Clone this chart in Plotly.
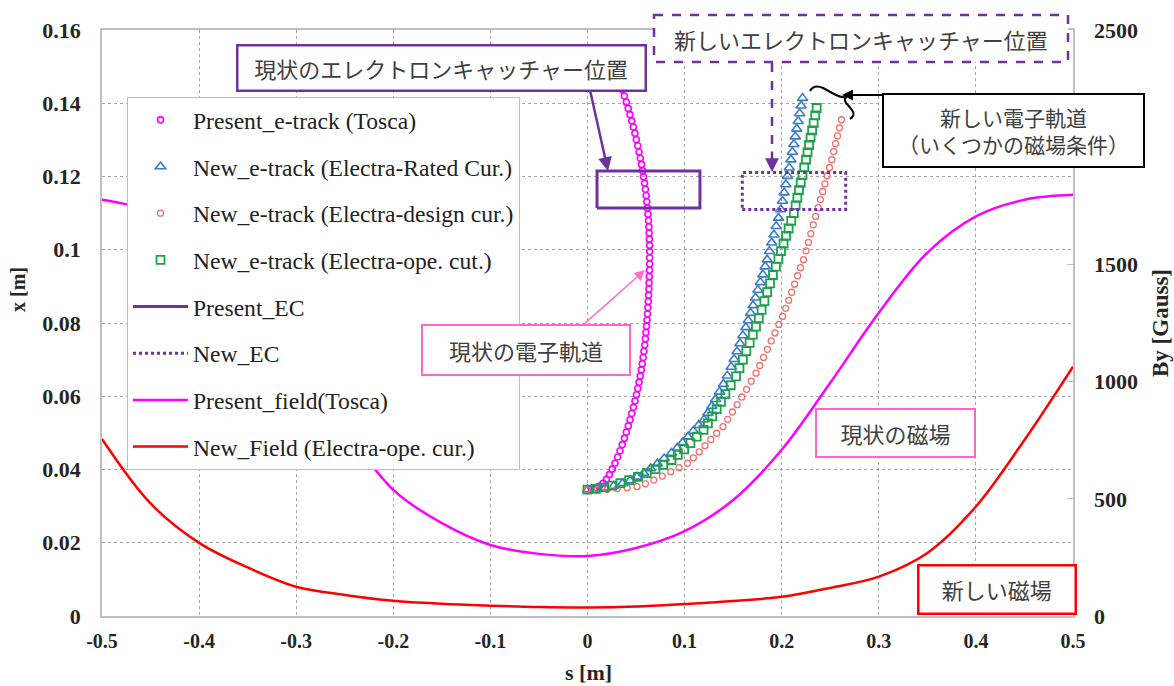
import plotly.graph_objects as go

# ---------------- data ----------------
s_field = [-0.5, -0.45, -0.4, -0.35, -0.3, -0.25, -0.2, -0.15, -0.1, -0.05, 0.0,
           0.05, 0.1, 0.15, 0.2, 0.25, 0.3, 0.35, 0.4, 0.45, 0.5]
present_field = [1776, 1725, 1590, 1380, 1100, 800, 538, 396, 303, 265, 256,
                 290, 362, 495, 709, 995, 1294, 1550, 1705, 1776, 1797]
new_field = [755, 480, 312, 207, 125, 90, 65, 52, 44, 38, 36,
             40, 51, 64, 82, 120, 168, 269, 467, 751, 1064]

present_track_s = [0.004, 0.008, 0.012, 0.016, 0.0195, 0.0225, 0.0255, 0.0283, 0.031, 0.0335,
                   0.0358, 0.038, 0.040, 0.042, 0.0438, 0.0456, 0.0473, 0.0489, 0.0504, 0.0518,
                   0.0531, 0.0543, 0.0554, 0.0564, 0.0573, 0.0581, 0.0589, 0.0596, 0.0602, 0.0608,
                   0.0613, 0.0618, 0.0622, 0.0626, 0.0629, 0.0632, 0.0634, 0.0636, 0.0638, 0.0639,
                   0.0640, 0.0640, 0.0639, 0.0637, 0.0635, 0.0632, 0.0628, 0.0623, 0.0617, 0.0611,
                   0.0604, 0.0596, 0.0587, 0.0577, 0.0567, 0.0556, 0.0544, 0.0531, 0.0518, 0.0503,
                   0.0488, 0.0472, 0.0455, 0.0437, 0.0419, 0.0400, 0.0380, 0.0360, 0.0339, 0.0317,
                   0.0295, 0.0272, 0.0248]
present_track_x = [0.0347, 0.0350, 0.0354, 0.0362, 0.0373, 0.0386, 0.0401, 0.0417, 0.0434, 0.0451,
                   0.0468, 0.0485, 0.0502, 0.0519, 0.0536, 0.0553, 0.0570, 0.0587, 0.0604, 0.0621,
                   0.0638, 0.0655, 0.0672, 0.0689, 0.0706, 0.0723, 0.0740, 0.0757, 0.0774, 0.0791,
                   0.0808, 0.0825, 0.0842, 0.0859, 0.0876, 0.0893, 0.0910, 0.0927, 0.0944, 0.0961,
                   0.0978, 0.0995, 0.1012, 0.1029, 0.1046, 0.1063, 0.1080, 0.1097, 0.1114, 0.1131,
                   0.1148, 0.1165, 0.1182, 0.1199, 0.1216, 0.1233, 0.1250, 0.1267, 0.1284, 0.1301,
                   0.1318, 0.1335, 0.1352, 0.1369, 0.1386, 0.1403, 0.1420, 0.1437, 0.1454, 0.1471,
                   0.1488, 0.1505, 0.1522]

rated_s = [0.0, 0.009, 0.018, 0.027, 0.036, 0.044,
           0.051, 0.058, 0.065, 0.072, 0.079,
           0.0865, 0.0925, 0.098, 0.1035, 0.109, 0.1145,
           0.12, 0.124, 0.128, 0.132, 0.136, 0.140, 0.144,
           0.148, 0.151, 0.154, 0.157, 0.160, 0.163, 0.1655,
           0.168, 0.1705, 0.173, 0.1755, 0.178, 0.1805, 0.183,
           0.185, 0.1873, 0.1897, 0.192, 0.1943, 0.1967,
           0.199, 0.2008, 0.2025, 0.2043, 0.206, 0.2078,
           0.2095, 0.211, 0.2125, 0.214, 0.2155, 0.217, 0.2185, 0.2200, 0.2215]
rated_x = [0.0345, 0.0347, 0.0350, 0.0355, 0.0362, 0.0370,
           0.0380, 0.0390, 0.0403, 0.0416, 0.0430,
           0.0445, 0.0459, 0.0474, 0.0489, 0.0505, 0.0521,
           0.0536, 0.0554, 0.0573, 0.0592, 0.0612, 0.0633, 0.0656,
           0.0680, 0.0701, 0.0722, 0.0744, 0.0766, 0.0788, 0.0807,
           0.0827, 0.0848, 0.0869, 0.0890, 0.0911, 0.0932, 0.0954,
           0.0973, 0.0996, 0.1019, 0.1041, 0.1064, 0.1087,
           0.1110, 0.1133, 0.1156, 0.1178, 0.1201, 0.1224,
           0.1246, 0.1267, 0.1288, 0.1309, 0.1330, 0.1351, 0.1372, 0.1393, 0.1414]

design_s = [0.0, 0.0102, 0.0204, 0.0306, 0.0408,
            0.051, 0.0597, 0.0683, 0.077, 0.0857, 0.0943,
            0.103, 0.109, 0.115, 0.121, 0.127, 0.133,
            0.1395, 0.1444, 0.1492, 0.1541, 0.1589, 0.1638, 0.1686,
            0.1735, 0.1774, 0.1814, 0.1853, 0.1892, 0.1931, 0.1971,
            0.201, 0.2041, 0.2072, 0.2102, 0.2133, 0.2164, 0.2194,
            0.2225, 0.225, 0.2275, 0.23, 0.2325, 0.235,
            0.2375, 0.2398, 0.2422, 0.2445, 0.2468, 0.2492,
            0.2515, 0.2535, 0.2555, 0.2575, 0.2595, 0.2615]
design_x = [0.0345, 0.0345, 0.0346, 0.0348, 0.0350,
            0.0353, 0.0361, 0.0371, 0.0382, 0.0394, 0.0405,
            0.0417, 0.0432, 0.0448, 0.0465, 0.0482, 0.0499,
            0.0517, 0.0537, 0.0557, 0.0577, 0.0598, 0.0619, 0.0641,
            0.0663, 0.0684, 0.0706, 0.0728, 0.0751, 0.0773, 0.0796,
            0.0818, 0.0840, 0.0862, 0.0884, 0.0906, 0.0929, 0.0951,
            0.0973, 0.0997, 0.1020, 0.1044, 0.1068, 0.1091,
            0.1115, 0.1137, 0.1159, 0.1180, 0.1202, 0.1224,
            0.1246, 0.1268, 0.1290, 0.1311, 0.1333, 0.1355]

ope_s = [0.0, 0.0085, 0.017, 0.0255,
         0.034, 0.043, 0.052, 0.061, 0.07, 0.078,
         0.0865, 0.093, 0.0995, 0.106, 0.1125,
         0.1195, 0.124, 0.1285, 0.133, 0.1375, 0.142, 0.1475,
         0.153, 0.1565, 0.16, 0.1635, 0.167, 0.1703,
         0.1735, 0.1764, 0.1793, 0.1822, 0.1851, 0.188, 0.191,
         0.194, 0.1966, 0.1993, 0.2019, 0.2045, 0.2071, 0.2098,
         0.2125, 0.2143, 0.2161, 0.2178, 0.2196, 0.2214, 0.2232,
         0.225, 0.2266, 0.2282, 0.2297, 0.2313, 0.2329, 0.2345, 0.236]
ope_x = [0.0345, 0.0347, 0.0351, 0.0356,
         0.0363, 0.0371, 0.0380, 0.0390, 0.0401, 0.0413,
         0.0426, 0.0440, 0.0455, 0.0472, 0.0490,
         0.0508, 0.0526, 0.0545, 0.0565, 0.0585, 0.0606, 0.0630,
         0.0654, 0.0677, 0.0700, 0.0723, 0.0746, 0.0768,
         0.0790, 0.0813, 0.0836, 0.0860, 0.0884, 0.0908, 0.0931,
         0.0954, 0.0975, 0.0996, 0.1017, 0.1038, 0.1058, 0.1079,
         0.1100, 0.1121, 0.1142, 0.1163, 0.1183, 0.1204, 0.1225,
         0.1246, 0.1266, 0.1286, 0.1306, 0.1326, 0.1346, 0.1367, 0.1387]

present_ec_s = [0.0098, 0.1158, 0.1158, 0.0098, 0.0098]
present_ec_x = [0.1114, 0.1114, 0.1215, 0.1215, 0.1114]
new_ec_s = [0.1594, 0.2659, 0.2659, 0.1594, 0.1594]
new_ec_x = [0.1110, 0.1110, 0.1211, 0.1211, 0.1110]

x_ticks = [-0.5, -0.4, -0.3, -0.2, -0.1, 0.0, 0.1, 0.2, 0.3, 0.4, 0.5]
x_tick_text = ['-0.5', '-0.4', '-0.3', '-0.2', '-0.1', '0', '0.1', '0.2', '0.3', '0.4', '0.5']
y_ticks = [0, 0.02, 0.04, 0.06, 0.08, 0.1, 0.12, 0.14, 0.16]
y_tick_text = ['0', '0.02', '0.04', '0.06', '0.08', '0.1', '0.12', '0.14', '0.16']
y2_ticks = [0, 500, 1000, 1500, 2000, 2500]
y2_tick_text = ['0', '500', '1000', '1500', '', '2500']   # 2000 is hidden behind a callout box

# ---------------- layout helpers (pixel coordinates) ----------------
FIG_W, FIG_H = 1174, 686
L, R, T, B = 102, 1073, 30, 616     # plot area in pixels
PURPLE = '#7030A0'
PINK = '#FF66CC'
SERIF = 'Liberation Serif'
JP = 'Noto Sans CJK JP'


def PX(px):
    return (px - L) / (R - L)


def PY(py):
    return (B - py) / (B - T)


fig = go.Figure()

fig.add_trace(go.Scatter(x=present_track_s, y=present_track_x, mode='markers',
                         name='Present_e-track (Tosca)', legendgroup='a',
                         marker=dict(symbol='circle-open', size=6, color='#FF00FF',
                                     line=dict(width=1.6, color='#FF00FF'))))
fig.add_trace(go.Scatter(x=rated_s, y=rated_x, mode='markers',
                         name='New_e-track (Electra-Rated Cur.)', legendgroup='b',
                         marker=dict(symbol='triangle-up-open', size=9, color='#3A7CC8',
                                     line=dict(width=1.6, color='#3A7CC8'))))
fig.add_trace(go.Scatter(x=design_s, y=design_x, mode='markers',
                         name='New_e-track (Electra-design cur.)', legendgroup='c',
                         marker=dict(symbol='circle-open', size=6, color='#F2706C',
                                     line=dict(width=1.3, color='#F2706C'))))
fig.add_trace(go.Scatter(x=ope_s, y=ope_x, mode='markers',
                         name='New_e-track (Electra-ope. cut.)', legendgroup='d',
                         marker=dict(symbol='square-open', size=8, color='#1FA04A',
                                     line=dict(width=1.8, color='#1FA04A'))))
fig.add_trace(go.Scatter(x=present_ec_s, y=present_ec_x, mode='lines',
                         name='Present_EC', legendgroup='e',
                         line=dict(color=PURPLE, width=3)))
fig.add_trace(go.Scatter(x=new_ec_s, y=new_ec_x, mode='lines',
                         name='New_EC', legendgroup='f',
                         line=dict(color=PURPLE, width=3, dash='dot')))
fig.add_trace(go.Scatter(x=s_field, y=present_field, mode='lines', yaxis='y2',
                         name='Present_field(Tosca)', legendgroup='g',
                         line=dict(color='#FF00FF', width=2.5, shape='spline')))
fig.add_trace(go.Scatter(x=s_field, y=new_field, mode='lines', yaxis='y2',
                         name='New_Field (Electra-ope. cur.)', legendgroup='h',
                         line=dict(color='#FF0000', width=2.5, shape='spline')))

grid = dict(showgrid=True, gridcolor='#A6A6A6', griddash='dot', gridwidth=1)

fig.update_layout(
    width=FIG_W, height=FIG_H,
    margin=dict(l=L, r=FIG_W - R, t=T, b=FIG_H - B),
    paper_bgcolor='white', plot_bgcolor='white',
    showlegend=True,
    legend=dict(x=PX(127), y=PY(97), xanchor='left', yanchor='top',
                bgcolor='white', bordercolor='#BFBFBF', borderwidth=1,
                font=dict(family=SERIF, size=23.6, color='#222222'),
                tracegroupgap=13, itemwidth=55),
    xaxis=dict(range=[-0.5, 0.5], tickvals=x_ticks, ticktext=x_tick_text,
               showline=True, linecolor='#BFBFBF', linewidth=1.5, mirror=True,
               zeroline=False, ticks='',
               tickfont=dict(family=SERIF, size=20, color='#262626', weight='bold'),
               ticklabelstandoff=6, **grid),
    yaxis=dict(range=[0, 0.16], tickvals=y_ticks, ticktext=y_tick_text,
               showline=True, linecolor='#BFBFBF', linewidth=1.5, mirror=True,
               zeroline=False, ticks='',
               tickfont=dict(family=SERIF, size=22, color='#262626', weight='bold'),
               ticklabelstandoff=15, **grid),
    yaxis2=dict(range=[0, 2500], tickvals=y2_ticks, ticktext=y2_tick_text,
                overlaying='y', side='right',
                showgrid=False, zeroline=False, showline=False,
                ticks='inside', ticklen=6, tickcolor='#BFBFBF',
                tickfont=dict(family=SERIF, size=22, color='#262626', weight='bold'),
                ticklabelstandoff=20),
)

annotations = []
shapes = []


def box(x0, y0, x1, y1, text, color, bw=2, fs=22):
    annotations.append(dict(
        x=PX((x0 + x1) / 2), y=PY((y0 + y1) / 2), xref='paper', yref='paper',
        xanchor='center', yanchor='middle', showarrow=False, text=text,
        font=dict(family=JP, size=fs, color='#404040'),
        bgcolor='white', bordercolor=color, borderwidth=bw, borderpad=0,
        width=x1 - x0 - bw, height=y1 - y0 - bw, align='center', valign='middle'))


def arrow(tx, ty, fx, fy, color, width=2, head=2, size=1.0):
    annotations.append(dict(
        x=PX(tx), y=PY(ty), xref='paper', yref='paper', ax=fx - tx, ay=fy - ty,
        axref='pixel', ayref='pixel', text='', showarrow=True,
        arrowhead=head, arrowsize=size, arrowwidth=width, arrowcolor=color))


def label(x, y, text, size, angle=0):
    annotations.append(dict(
        x=PX(x), y=PY(y), xref='paper', yref='paper', xanchor='center', yanchor='middle',
        showarrow=False, text=text, textangle=angle,
        font=dict(family=SERIF, size=size, color='#262626')))


arrow(608, 171, 590, 90, PURPLE, width=2.5, size=1.1)
arrow(772, 172, 772, 150, PURPLE, width=2.5, size=1.1)
arrow(645, 270, 582, 326, '#FF6FC8', width=1.5, size=1.4)
arrow(842, 95, 884, 95, 'black', width=2, size=1.1)

shapes.append(dict(type='line', xref='paper', yref='paper',
                   x0=PX(772), y0=PY(63), x1=PX(772), y1=PY(152),
                   line=dict(color=PURPLE, width=2.5, dash='dash')))

shapes.append(dict(type='rect', xref='paper', yref='paper',
                   x0=PX(654), y0=PY(15), x1=PX(1068), y1=PY(62),
                   line=dict(color=PURPLE, width=2.5, dash='dash'),
                   fillcolor='white', layer='above'))
annotations.append(dict(x=PX(861), y=PY(38.5), xref='paper', yref='paper',
                        xanchor='center', yanchor='middle', showarrow=False,
                        text='新しいエレクトロンキャッチャー位置',
                        font=dict(family=JP, size=22, color='#404040')))

pts = [(810, 91), (814, 84), (823, 88), (836, 95), (842, 98), (846, 97),
       (843, 101), (848, 105), (852, 110), (856, 115), (850, 119)]
path = 'M {:.5f},{:.5f} Q {:.5f},{:.5f} {:.5f},{:.5f} L {:.5f},{:.5f} Q {:.5f},{:.5f} {:.5f},{:.5f} ' \
       'Q {:.5f},{:.5f} {:.5f},{:.5f} L {:.5f},{:.5f} Q {:.5f},{:.5f} {:.5f},{:.5f}'.format(
           *[v for p in pts for v in (PX(p[0]), PY(p[1]))])
shapes.append(dict(type='path', xref='paper', yref='paper', path=path,
                   line=dict(color='black', width=2)))

box(237, 45, 645, 90, '現状のエレクトロンキャッチャー位置', PURPLE, bw=2.5)
box(883, 94, 1144, 167, '新しい電子軌道<br>（いくつかの磁場条件）', 'black', bw=2, fs=21)
box(422, 325, 630, 375, '現状の電子軌道', PINK, bw=2)
box(816, 409, 975, 457, '現状の磁場', PINK, bw=2)
box(918, 565, 1075, 613, '新しい磁場', '#FF0000', bw=2.5)

label(18, 290, '<b>x [m]</b>', 20, -90)
label(588, 672, '<b>s [m]</b>', 22)
label(1160, 323, '<b>By [Gauss]</b>', 23, -90)

fig.update_layout(annotations=annotations, shapes=shapes)
fig.write_html('out.html', config=dict(displayModeBar=False),
               post_script="document.body.style.margin='0px';")
